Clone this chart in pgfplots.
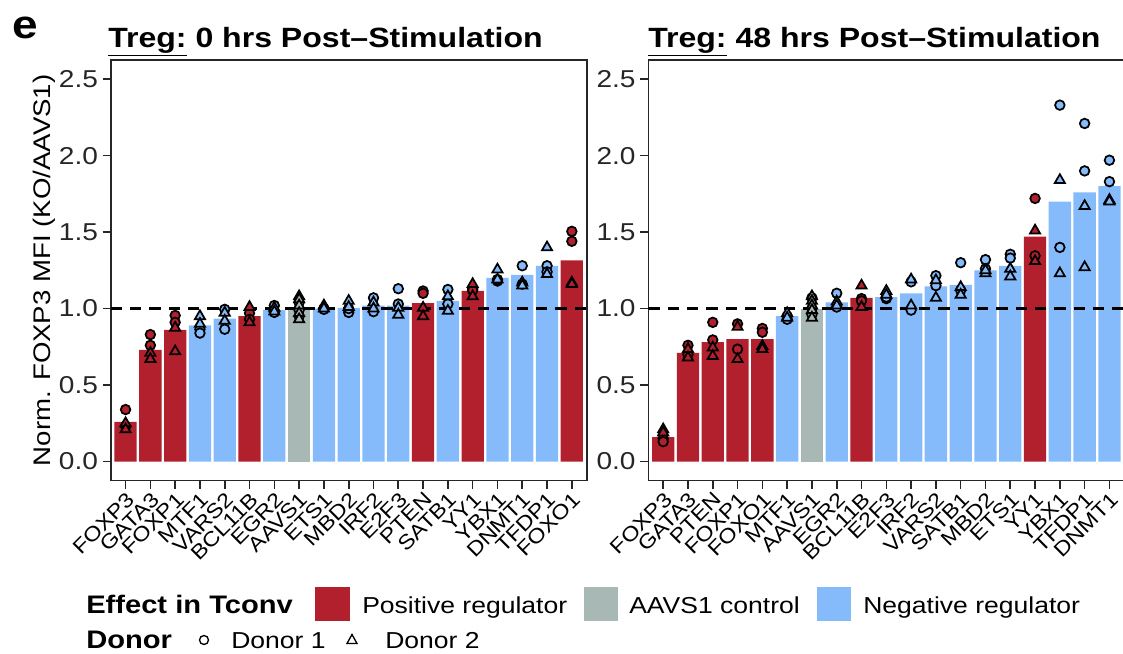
\documentclass[border=0pt]{standalone}
\usepackage{fontspec}
\setmainfont{Liberation Sans}[FakeStretch=1.15]
\usepackage{pgfplots}
\pgfplotsset{compat=1.18}
\usepackage{pgfplotstable}
\definecolor{cred}{RGB}{178,32,46}
\definecolor{cgray}{RGB}{168,185,181}
\definecolor{cblue}{RGB}{133,187,250}

% ---------- left panel (0 hrs) ----------
\pgfplotstableread{
x y
0 0.26
1 0.73
2 0.86
5 0.95
12 1.035
14 1.115
18 1.315
}\LbarRed
\pgfplotstableread{
x y
7 1.00
}\LbarGray
\pgfplotstableread{
x y
3 0.89
4 0.935
6 0.99
8 1.00
9 1.005
10 1.02
11 1.02
13 1.05
15 1.20
16 1.22
17 1.28
}\LbarBlue
\pgfplotstableread{
x y c
0 0.34 r
0 0.23 r
1 0.83 r
1 0.76 r
2 0.955 r
2 0.91 r
3 0.865 b
3 0.84 b
4 0.995 b
4 0.865 b
5 0.97 r
5 0.93 r
6 1.02 b
6 0.975 b
7 1.04 g
7 0.99 g
7 0.95 g
8 1.00 b
8 0.995 b
9 0.975 b
9 1.00 b
10 1.07 b
10 0.98 b
11 1.13 b
11 1.03 b
12 1.115 r
12 1.10 r
13 1.125 b
13 1.03 b
14 1.13 r
14 1.12 r
15 1.18 b
15 1.19 b
16 1.28 b
16 1.16 b
17 1.28 b
17 1.24 b
18 1.505 r
18 1.44 r
}\LcircD
\pgfplotstableread{
x y c
0 0.25 r
0 0.21 r
1 0.71 r
1 0.67 r
2 0.875 r
2 0.72 r
3 0.95 b
3 0.90 b
4 0.973 b
4 0.92 b
5 1.01 r
5 0.91 r
6 1.005 b
6 0.98 b
7 1.08 g
7 1.06 g
7 1.02 g
7 0.97 g
7 0.93 g
8 1.02 b
8 1.00 b
9 1.05 b
9 1.01 b
10 1.04 b
10 1.00 b
11 1.005 b
11 0.96 b
12 1.005 r
12 0.95 r
13 1.08 b
13 0.985 b
14 1.16 r
14 1.08 r
15 1.255 b
15 1.19 b
16 1.17 b
16 1.15 b
17 1.40 b
17 1.225 b
18 1.17 r
18 1.16 r
}\LtriD

% ---------- right panel (48 hrs) ----------
\pgfplotstableread{
x y
0 0.16
1 0.71
2 0.78
3 0.80
4 0.80
8 1.07
15 1.47
}\RbarRed
\pgfplotstableread{
x y
6 1.00
}\RbarGray
\pgfplotstableread{
x y
5 0.95
7 1.04
9 1.075
10 1.10
11 1.145
12 1.155
13 1.25
14 1.28
16 1.70
17 1.76
18 1.80
}\RbarBlue
\pgfplotstableread{
x y c
0 0.15 r
0 0.13 r
1 0.76 r
1 0.70 r
2 0.91 r
2 0.795 r
3 0.90 r
3 0.735 r
4 0.87 r
4 0.845 r
5 0.95 b
5 0.93 b
6 1.07 g
6 1.00 g
6 0.96 g
7 1.10 b
7 1.01 b
8 1.065 r
8 1.05 r
9 1.065 b
9 1.075 b
10 1.175 b
10 0.99 b
11 1.215 b
11 1.15 b
12 1.30 b
12 1.12 b
13 1.32 b
13 1.26 b
14 1.355 b
14 1.33 b
15 1.72 r
15 1.345 r
16 2.33 b
16 1.40 b
17 2.21 b
17 1.90 b
18 1.97 b
18 1.83 b
}\RcircD
\pgfplotstableread{
x y c
0 0.21 r
0 0.19 r
1 0.735 r
1 0.68 r
2 0.745 r
2 0.69 r
3 0.88 r
3 0.67 r
4 0.755 r
4 0.735 r
5 0.97 b
5 0.94 b
6 1.08 g
6 1.05 g
6 1.02 g
6 0.99 g
6 0.94 g
7 1.045 b
7 1.02 b
8 1.15 r
8 1.01 r
9 1.115 b
9 1.09 b
10 1.19 b
10 1.02 b
11 1.185 b
11 1.07 b
12 1.14 b
12 1.09 b
13 1.23 b
13 1.25 b
14 1.26 b
14 1.21 b
15 1.51 r
15 1.31 r
16 1.84 b
16 1.23 b
17 1.67 b
17 1.27 b
18 1.71 b
18 1.70 b
}\RtriD

\pgfplotsset{
  panel/.style={
    scale only axis, width=357pt, height=315.5pt,
    anchor=north west,
    xmin=-0.6, xmax=18.6, ymin=-0.125, ymax=2.625,
    axis line style={line width=1.2pt, black!85},
    xtick={0,...,18}, ytick={0,0.5,...,2.5},
    xtick pos=bottom, ytick pos=left,
    tick align=outside, major tick length=6pt,
    every tick/.style={line width=1.2pt, black!85},
    /pgf/number format/assume math mode=true,
    yticklabel style={font=\fontsize{18.3}{20}\selectfont, text=black!85,
      /pgf/number format/.cd, fixed, fixed zerofill, precision=1},
    x tick label style={rotate=45, anchor=north east, inner sep=1pt,
      font=\fontsize{15.3}{17}\selectfont},
  },
  barR/.style={ybar, bar width=0.9, bar shift=0pt, draw=none, fill=cred},
  barG/.style={ybar, bar width=0.9, bar shift=0pt, draw=none, fill=cgray},
  barB/.style={ybar, bar width=0.9, bar shift=0pt, draw=none, fill=cblue},
  refline/.style={no marks, black, line width=2.4pt, dash pattern=on 8.5pt off 6pt},
  pts/.style 2 args={only marks, scatter, scatter src=explicit symbolic,
    scatter/classes={
      r={mark=#1, mark size=#2, draw=black, fill=cred, line width=1.3pt},
      g={mark=#1, mark size=#2, draw=black, fill=cgray, line width=1.3pt},
      b={mark=#1, mark size=#2, draw=black, fill=cblue, line width=1.3pt}}},
}

\begin{document}
\begin{tikzpicture}
\path[use as bounding box] (0pt,0pt) rectangle (842.25pt,-489.75pt);

\begin{axis}[panel, at={(83.025pt,-45pt)},
  xticklabels={FOXP3,GATA3,FOXP1,MTF1,VARS2,BCL11B,EGR2,AAVS1,ETS1,MBD2,IRF2,E2F3,PTEN,SATB1,YY1,YBX1,DNMT1,TFDP1,FOXO1},
  ylabel={Norm. FOXP3 MFI (KO/AAVS1)}, ylabel shift=-3pt,
  ylabel style={font=\fontsize{18}{20}\selectfont, inner sep=2pt}]
\addplot[barR] table[x=x,y=y] {\LbarRed};
\addplot[barG] table[x=x,y=y] {\LbarGray};
\addplot[barB] table[x=x,y=y] {\LbarBlue};
\addplot[refline] coordinates {(-0.6,1) (18.6,1)};
\addplot[pts={*}{3.6pt}] table[x=x,y=y,meta=c] {\LcircD};
\addplot[pts={triangle*}{4.4pt}] table[x=x,y=y,meta=c] {\LtriD};
\end{axis}

\begin{axis}[panel, at={(486.225pt,-45pt)},
  xticklabels={FOXP3,GATA3,PTEN,FOXP1,FOXO1,MTF1,AAVS1,EGR2,BCL11B,E2F3,IRF2,VARS2,SATB1,MBD2,ETS1,YY1,YBX1,TFDP1,DNMT1}]
\addplot[barR] table[x=x,y=y] {\RbarRed};
\addplot[barG] table[x=x,y=y] {\RbarGray};
\addplot[barB] table[x=x,y=y] {\RbarBlue};
\addplot[refline] coordinates {(-0.6,1) (18.6,1)};
\addplot[pts={*}{3.6pt}] table[x=x,y=y,meta=c] {\RcircD};
\addplot[pts={triangle*}{4.4pt}] table[x=x,y=y,meta=c] {\RtriD};
\end{axis}

\begin{scope}[x=0.75pt, y=-0.75pt]
% panel letter and titles
\node[anchor=base west, inner sep=0, font=\bfseries\fontsize{30}{32}\selectfont] at (12,38) {e};
\node[anchor=base west, inner sep=0, font=\bfseries\fontsize{20.9}{24}\selectfont] at (108,47) {\underline{Treg:} 0 hrs Post–Stimulation};
\node[anchor=base west, inner sep=0, font=\bfseries\fontsize{20.9}{24}\selectfont] at (648,47) {\underline{Treg:} 48 hrs Post–Stimulation};

% legend row 1
\node[anchor=base west, inner sep=0, font=\bfseries\fontsize{19}{21}\selectfont] at (86,613) {Effect in Tconv};
\fill[cred] (315,587) rectangle (350,621);
\node[anchor=base west, inner sep=0, font=\fontsize{17.3}{20}\selectfont] at (362,613) {Positive regulator};
\fill[cgray] (584,587) rectangle (618,621);
\node[anchor=base west, inner sep=0, font=\fontsize{17.3}{20}\selectfont] at (629,613) {AAVS1 control};
\fill[cblue] (817,587) rectangle (851,621);
\node[anchor=base west, inner sep=0, font=\fontsize{17.3}{20}\selectfont] at (863,613) {Negative regulator};
% legend row 2
\node[anchor=base west, inner sep=0, font=\bfseries\fontsize{19}{21}\selectfont] at (86,648) {Donor};
\draw[line width=1pt] (204,640) circle[radius=4.5];
\node[anchor=base west, inner sep=0, font=\fontsize{17.3}{20}\selectfont] at (231,648) {Donor 1};
\draw[line width=1pt] (352,634.5) -- (357,643.5) -- (347,643.5) -- cycle;
\node[anchor=base west, inner sep=0, font=\fontsize{17.3}{20}\selectfont] at (385,648) {Donor 2};
\end{scope}
\end{tikzpicture}
\end{document}
